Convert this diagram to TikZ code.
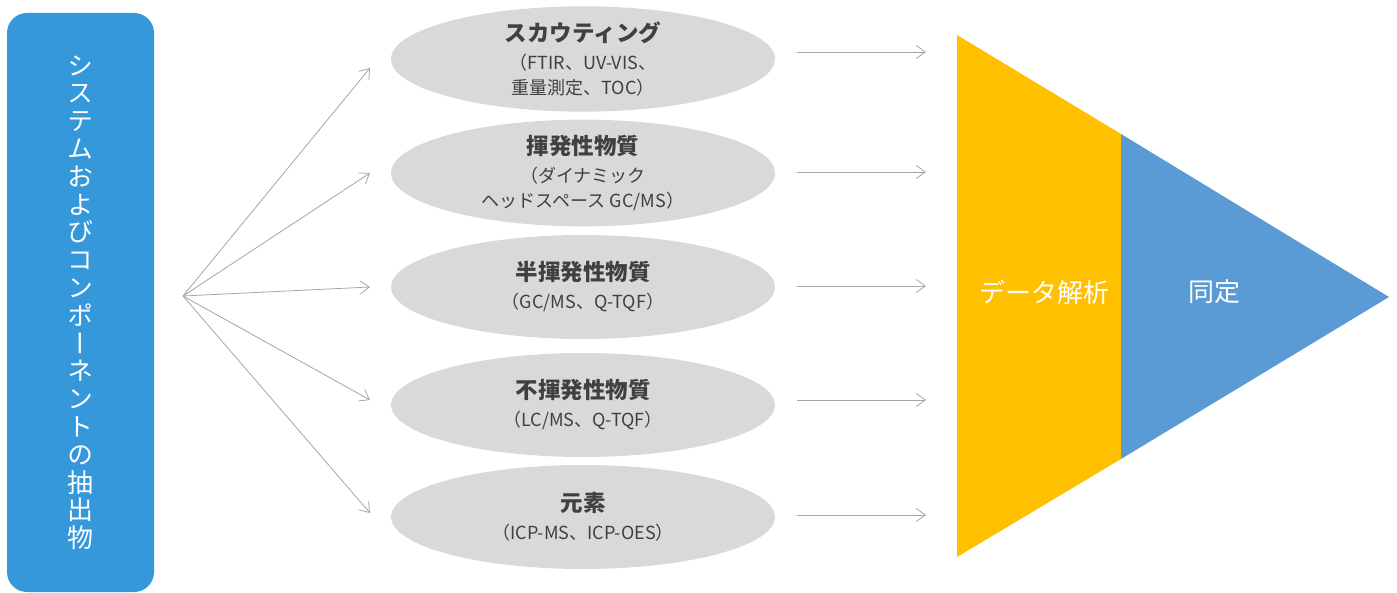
\documentclass[tikz,border=0pt]{standalone}
\usepackage{fontspec}
\setmainfont{Noto Sans CJK JP}
\newfontfamily\vertfont[RawFeature=+vert]{Noto Sans CJK JP}
\usetikzlibrary{arrows.meta, shapes.geometric}

\definecolor{boxblue}{RGB}{53,152,219}
\definecolor{funnelyellow}{RGB}{255,192,0}
\definecolor{funnelblue}{RGB}{91,155,213}
\definecolor{ellgray}{RGB}{217,217,217}
\definecolor{arrowgray}{RGB}{165,165,165}
\definecolor{textgray}{RGB}{64,64,64}

\newcommand{\headline}[1]{{\fontsize{22.5}{25}\selectfont\bfseries #1}}

\begin{document}
\begin{tikzpicture}[x=1pt, y=-1pt]
\useasboundingbox (0,0) rectangle (1397,593);

% left box, text set top to bottom
\node (src) [fill=boxblue, rounded corners=20pt, minimum width=147pt, minimum height=579pt,
    inner sep=0pt, text=white, align=center, font=\vertfont\fontsize{26}{27.8}\selectfont]
    at (80.5,302.5) {シ\\ス\\テ\\ム\\お\\よ\\び\\コ\\ン\\ポ\\ー\\ネ\\ン\\ト\\の\\抽\\出\\物};

\coordinate (hub) at (183,296);
\coordinate (t1) at (370,68);
\coordinate (t2) at (370,173);
\coordinate (t3) at (370,287);
\coordinate (t4) at (370,400);
\coordinate (t5) at (370,513);

\begin{scope}[every node/.style={ellipse, fill=ellgray, minimum width=384pt, minimum height=104pt,
    inner sep=0pt, text=textgray, align=center, font=\fontsize{18}{25}\selectfont}]
    \node (scout) at (583,59) {\headline{スカウティング}\\[3pt]（FTIR、UV-VIS、\\重量測定、TOC）};
    \node (volatile) at (583,173) {\headline{揮発性物質}\\[3pt]（ダイナミック\\ヘッドスペース GC/MS）};
    \node (semivol) at (583,287) {\headline{半揮発性物質}\\[3pt]（GC/MS、Q-TQF）};
    \node (nonvol) at (583,405) {\headline{不揮発性物質}\\[3pt]（LC/MS、Q-TQF）};
    \node (element) at (583,517) {\headline{元素}\\[3pt]（ICP-MS、ICP-OES）};
\end{scope}

\coordinate (a1) at (797,52);  \coordinate (b1) at (926,52);
\coordinate (a2) at (797,172); \coordinate (b2) at (926,172);
\coordinate (a3) at (797,286); \coordinate (b3) at (926,286);
\coordinate (a4) at (797,400); \coordinate (b4) at (926,400);
\coordinate (a5) at (797,515); \coordinate (b5) at (926,515);

% funnel
\fill[funnelyellow] (957,35) -- (1121,134) -- (1121,459) -- (957,557) -- cycle;
\fill[funnelblue] (1121,134) -- (1389,297) -- (1121,459) -- cycle;
\node (analysis) [text=white, font=\fontsize{26}{30}\selectfont] at (1044,292) {データ解析};
\node (ident) [text=white, font=\fontsize{26}{30}\selectfont] at (1214,292) {同定};

\begin{scope}[>={Straight Barb[length=9pt,width=13pt]},
              every edge/.style={draw=arrowgray,line width=0.8pt}]
    \path [->] (hub) edge (t1);
    \path [->] (hub) edge (t2);
    \path [->] (hub) edge (t3);
    \path [->] (hub) edge (t4);
    \path [->] (hub) edge (t5);
    \path [->] (a1) edge (b1);
    \path [->] (a2) edge (b2);
    \path [->] (a3) edge (b3);
    \path [->] (a4) edge (b4);
    \path [->] (a5) edge (b5);
\end{scope}
\end{tikzpicture}
\end{document}
